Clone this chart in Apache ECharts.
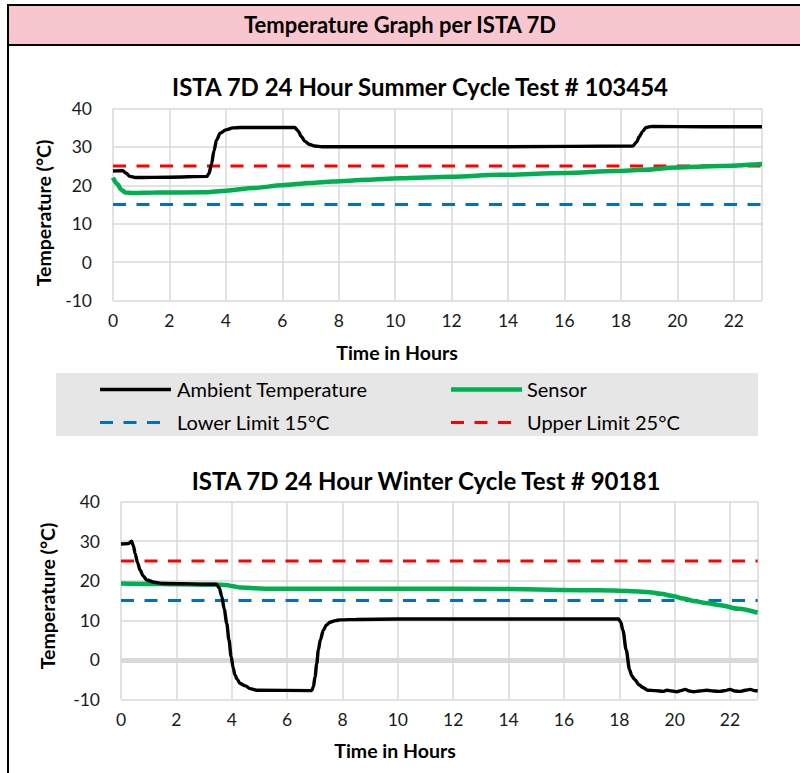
<!DOCTYPE html>
<html>
<head>
<meta charset="utf-8">
<script src="https://cdn.jsdelivr.net/npm/echarts@6/dist/echarts.min.js"></script>
<style>
  html, body { margin: 0; padding: 0; background: #fff; }
  #page { position: relative; width: 800px; height: 773px; overflow: hidden; font-family: Lato, "Open Sans", sans-serif; }
  .blk { position: absolute; background: #000; }
  #hdr { position: absolute; left: 9px; top: 6px; width: 791px; height: 37.5px; background: #f8c6cf; }
  #hdrText { position: absolute; left: 0; top: 5.5px; width: 800px; height: 37.5px; line-height: 37.5px; text-align: center; font-weight: bold; font-size: 22px; color: #000; }
  #chart { position: absolute; left: 0; top: 0; width: 800px; height: 773px; }
</style>
</head>
<body>
<div id="page">
  <div id="hdr"></div>
  <div class="blk" style="left:7px;top:4px;width:793px;height:2px;"></div>
  <div class="blk" style="left:7px;top:4px;width:2px;height:769px;"></div>
  <div class="blk" style="left:7px;top:43.5px;width:793px;height:2.5px;"></div>
  <div id="hdrText">Temperature Graph per ISTA 7D</div>
  <div id="chart"></div>
</div>
<script>
// ---- Data ----
const xTicks = [0, 2, 4, 6, 8, 10, 12, 14, 16, 18, 20, 22];
const yTicks = [-10, 0, 10, 20, 30, 40];

const summerAmbientTime = [0, 0.35, 0.45, 0.6, 0.8, 2, 3.32, 3.4, 3.49, 3.58, 3.67, 3.8, 4.0, 4.25, 4.5, 5.5, 6.44, 6.55, 6.68, 6.8, 6.97, 7.15, 7.4, 10, 14, 18.42, 18.55, 18.65, 18.77, 18.89, 19.1, 21, 23];
const summerAmbient = [23.7, 23.8, 23.2, 22.3, 22.0, 22.1, 22.3, 23.0, 25.5, 29.0, 31.8, 33.5, 34.4, 34.9, 35.0, 35.0, 35.0, 34.2, 32.6, 31.4, 30.6, 30.2, 30.0, 30.0, 30.0, 30.2, 31.2, 32.6, 34.0, 35.0, 35.3, 35.2, 35.2];

const summerSensorTime = [0, 0.15, 0.3, 0.45, 0.7, 1.5, 3.3, 4.0, 5.0, 6.0, 7.0, 7.8, 9.0, 10.16, 12, 13.7, 16, 17.83, 18.77, 19.95, 21.5, 23];
const summerSensor = [22.0, 20.3, 18.8, 18.1, 18.0, 18.1, 18.2, 18.6, 19.3, 20.0, 20.6, 21.0, 21.4, 21.8, 22.2, 22.7, 23.2, 23.7, 24.0, 24.6, 25.0, 25.5];

const winterAmbientTime = [0, 0.27, 0.38, 0.45, 0.51, 0.6, 0.69, 0.8, 0.93, 1.2, 1.5, 3.45, 3.55, 3.64, 3.73, 3.82, 3.9, 3.98, 4.05, 4.12, 4.2, 4.3, 4.5, 4.66, 4.9, 6.89, 6.95, 7.01, 7.07, 7.13, 7.2, 7.31, 7.42, 7.55, 7.75, 7.91, 8.5, 10, 14, 17.97, 18.05, 18.13, 18.25, 18.37, 18.45, 18.55, 18.73, 18.85, 19.03, 19.3, 19.6, 19.72, 19.9, 20.08, 20.23, 20.38, 20.53, 20.68, 20.9, 21.16, 21.4, 21.64, 21.82, 22.0, 22.18, 22.36, 22.55, 22.73, 22.88, 23.0];
const winterAmbient = [29.3, 29.4, 30.0, 28.8, 26.9, 24.5, 22.7, 21.2, 20.2, 19.6, 19.3, 19.1, 18.2, 16.0, 12.8, 9.2, 5.0, 0.8, -2.0, -3.9, -5.0, -6.0, -6.6, -7.3, -7.7, -7.8, -6.8, -4.3, -1.0, 2.5, 5.0, 7.5, 8.8, 9.5, 9.9, 10.1, 10.2, 10.3, 10.3, 10.3, 9.6, 7.5, 2.5, -2.5, -4.0, -5.0, -6.4, -7.0, -7.7, -7.8, -8.0, -7.7, -7.9, -8.1, -7.8, -7.5, -7.9, -8.1, -7.9, -7.7, -7.9, -8.0, -7.8, -7.5, -7.9, -8.0, -7.7, -7.5, -7.8, -7.9];

const winterSensorTime = [0, 1, 2, 3.2, 3.6, 3.8, 4.05, 4.3, 4.8, 5.3, 7, 10.1, 13.7, 17.3, 18.3, 19.1, 19.5, 19.96, 20.3, 20.68, 21.2, 21.65, 22.3, 23];
const winterSensor = [19.3, 19.2, 19.1, 19.0, 19.0, 18.9, 18.6, 18.3, 18.1, 18.0, 18.0, 18.0, 17.9, 17.6, 17.4, 17.1, 16.7, 16.1, 15.5, 14.9, 14.3, 13.8, 12.9, 11.9];

const limitTime = [0, 23];
const lowerLimit = [15, 15];
const upperLimit = [25, 25];

const names = ['Ambient Temperature', 'Sensor', 'Lower Limit 15°C', 'Upper Limit 25°C'];
const titles = ['ISTA 7D 24 Hour Summer Cycle Test # 103454', 'ISTA 7D 24 Hour Winter Cycle Test # 90181'];
const xName = 'Time in Hours';
const yName = 'Temperature (°C)';

// ---- Styles ----
const pairs = (t, v) => t.map((x, i) => [x, v[i]]);
const FONT = 'Lato, "Open Sans", sans-serif';
const GRID = '#d9d9d9';
const DASH = [13, 10.5];
const styles = {
  amb: { color: '#000', width: 3.4, type: 'solid' },
  sen: { color: '#00b050', width: 4.5, type: 'solid' },
  low: { color: '#0070c0', width: 3, type: DASH },
  up:  { color: '#ff0000', width: 3, type: DASH }
};

function axes(idx) {
  return {
    x: {
      type: 'value', gridIndex: idx, min: xTicks[0], max: 23, interval: 2,
      axisLine: { show: false }, axisTick: { show: false },
      splitLine: { show: true, lineStyle: { color: GRID, width: 1.5 } },
      axisLabel: { fontFamily: FONT, fontSize: 17.5, color: '#1a1a1a', margin: 11,
        formatter: v => (xTicks.indexOf(v) >= 0 ? String(v) : '') }
    },
    y: {
      type: 'value', gridIndex: idx, min: yTicks[0], max: yTicks[yTicks.length - 1], interval: 10,
      axisLine: { show: false }, axisTick: { show: false },
      splitLine: { show: true, lineStyle: { color: GRID, width: 1.5 } },
      axisLabel: { fontFamily: FONT, fontSize: 17.5, color: '#1a1a1a', margin: 21 }
    }
  };
}
const a0 = axes(0), a1 = axes(1);

function seriesFor(idx, amb, sen) {
  const mk = (name, data, st, z, smooth) => ({
    name, type: 'line', xAxisIndex: idx, yAxisIndex: idx, data, symbol: 'none', z,
    smooth: smooth ? 0.3 : false, smoothMonotone: 'x',
    lineStyle: Object.assign({}, st), itemStyle: { color: st.color }
  });
  return [
    mk(names[2], pairs(limitTime, lowerLimit), styles.low, 3, false),
    mk(names[3], pairs(limitTime, upperLimit), styles.up, 3, false),
    mk(names[1], sen, styles.sen, 4, true),
    mk(names[0], amb, styles.amb, 5, true)
  ];
}

const series = [
  ...seriesFor(0, pairs(summerAmbientTime, summerAmbient), pairs(summerSensorTime, summerSensor)),
  ...seriesFor(1, pairs(winterAmbientTime, winterAmbient), pairs(winterSensorTime, winterSensor)),
  { type: 'line', xAxisIndex: 1, yAxisIndex: 1, data: [], z: 1, silent: true,
    markLine: { silent: true, symbol: 'none', label: { show: false },
      lineStyle: { color: GRID, width: 5, type: 'solid' }, data: [{ yAxis: 0 }] } }
];

// Legend: text from the legend component, key lines drawn as graphic strokes
const legendText = { fontFamily: FONT, fontSize: 20, color: '#000', lineHeight: 22 };
const hidden = { color: 'rgba(0,0,0,0)', opacity: 0, borderWidth: 0 };
const legendCommon = { orient: 'vertical', top: 378, padding: 0, itemGap: 11, itemWidth: 72, itemHeight: 14,
  icon: 'rect', textStyle: legendText, selectedMode: false, z: 10, itemStyle: hidden };

const keyLine = (x, y, len, st) => ({
  type: 'line', z: 11, shape: { x1: x, y1: y, x2: x + len, y2: y },
  style: { stroke: st.color, lineWidth: st.width, lineDash: st.type === 'solid' ? null : st.type }
});

const boldText = (x, y, text, size, rot) => ({
  type: 'text', x, y, rotation: rot || 0, z: 10,
  style: { text, fontFamily: FONT, fontWeight: 'bold', fontSize: size, fill: '#000', align: 'center', verticalAlign: 'middle' }
});

const option = {
  animation: false,
  grid: [
    { left: 113, right: 38, top: 108.3, height: 192.4 },
    { left: 121, right: 42.3, top: 501.7, height: 197.6 }
  ],
  xAxis: [a0.x, a1.x],
  yAxis: [a0.y, a1.y],
  legend: [
    Object.assign({ left: 100, data: [names[0], names[2]] }, legendCommon),
    Object.assign({ left: 450, data: [names[1], names[3]] }, legendCommon)
  ],
  graphic: [
    { type: 'rect', z: 0, shape: { x: 56, y: 373, width: 702, height: 63 }, style: { fill: '#e7e6e6' } },
    keyLine(100, 389.5, 71, styles.amb),
    keyLine(100, 422.5, 60, styles.low),
    keyLine(451, 389.5, 71, styles.sen),
    keyLine(451, 422.5, 60, styles.up),
    boldText(420, 86, titles[0], 24),
    boldText(426, 480, titles[1], 24),
    boldText(397, 352, xName, 19.5),
    boldText(395, 750, xName, 19.5),
    boldText(43, 213, yName, 19.5, Math.PI / 2),
    boldText(47, 596, yName, 19.5, Math.PI / 2)
  ],
  series
};

const chart = echarts.init(document.getElementById('chart'), null, { renderer: 'svg', width: 800, height: 773 });
chart.setOption(option);
</script>
</body>
</html>
